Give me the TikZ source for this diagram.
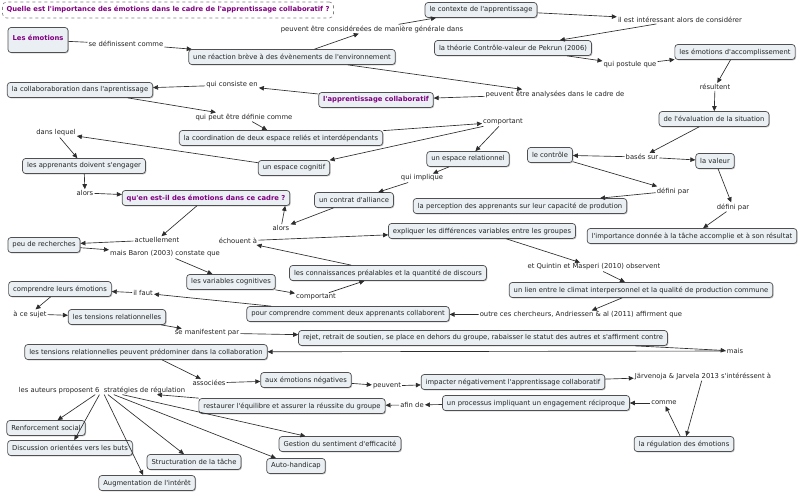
\documentclass[tikz,border=0pt]{standalone}
\usepackage{fontspec}
\setmainfont{DejaVu Sans}[Ligatures=TeXOff]
\usetikzlibrary{arrows.meta,shadows}
\definecolor{boxc}{RGB}{233,239,243}
\definecolor{bordc}{RGB}{80,80,80}
\definecolor{linec}{RGB}{45,45,45}
\definecolor{txtc}{RGB}{35,35,35}
\definecolor{purp}{RGB}{128,0,128}
\newcommand{\fs}{\fontsize{6.8}{8}\selectfont}
\tikzset{
  concept/.style={draw=bordc, fill=boxc, rounded corners=3pt, line width=0.7pt,
    inner xsep=4.5pt, inner ysep=0pt, minimum height=15pt, text=txtc, font=\fs,
    drop shadow={shadow xshift=0.9pt, shadow yshift=-0.9pt, opacity=0.25, fill=black}},
  link/.style={inner sep=1pt, text=txtc, font=\fs},
  hl/.style={text=purp, font=\fs\bfseries},
  arr/.style={draw=linec, line width=0.65pt, -{Triangle[length=5pt,width=4.5pt]}},
  ln/.style={draw=linec, line width=0.65pt}
}
\begin{document}
\begin{tikzpicture}[x=1pt,y=-1pt]
\useasboundingbox[fill=white] (0,0) rectangle (800,493);
% title
\node[draw=gray, dashed, rounded corners=4pt, fill=white, line width=0.6pt,
  text=purp, font=\fs\bfseries, minimum height=16pt, inner xsep=4pt] (title) at (168,10)
  {Quelle est l'importance des émotions dans le cadre de l'apprentissage collaboratif ?};
% concepts
\node[concept,hl,minimum height=25pt,minimum width=60pt] (emo) at (38,40) {\raisebox{5pt}{Les émotions}};
\node[concept] (reac) at (292,57) {une réaction brève à des évènements de l'environnement};
\node[concept] (ctx) at (481,10) {le contexte de l'apprentissage};
\node[concept] (pek) at (513,48) {la théorie Contrôle-valeur de Pekrun (2006)};
\node[concept] (acc) at (735,52) {les émotions d'accomplissement};
\node[concept] (eval) at (714,119) {de l'évaluation de la situation};
\node[concept] (ctrl) at (550,155) {le contrôle};
\node[concept] (val) at (715,161) {la valeur};
\node[concept] (perc) at (520,206) {la perception des apprenants sur leur capacité de prodution};
\node[concept] (imp) at (692,236) {l'importance donnée à la tâche accomplie et à son résultat};
\node[concept] (collab) at (80,90) {la collaboraboration dans l'aprentissage};
\node[concept,hl] (appc) at (376,100) {l'apprentissage collaboratif};
\node[concept] (coord) at (281,138) {la coordination de deux espace reliés et interdépendants};
\node[concept] (cogn) at (294,168) {un espace cognitif};
\node[concept] (rel) at (468,159) {un espace relationnel};
\node[concept] (engag) at (84,166) {les apprenants doivent s'engager};
\node[concept,hl] (quen) at (206,198) {qu'en est-il des émotions dans ce cadre ?};
\node[concept] (contrat) at (354,200) {un contrat d'alliance};
\node[concept] (peu) at (44,245) {peu de recherches};
\node[concept] (expl) at (482,231) {expliquer les différences variables entre les groupes};
\node[concept] (varc) at (231,282) {les variables cognitives};
\node[concept] (conn) at (388,273) {les connaissances préalables et la quantité de discours};
\node[concept] (compr) at (60,289) {comprendre leurs émotions};
\node[concept] (pour) at (348,314) {pour comprendre comment deux apprenants collaborent};
\node[concept] (lien) at (641,290) {un lien entre le climat interpersonnel et la qualité de production commune};
\node[concept] (tens) at (117,317) {les tensions relationnelles};
\node[concept] (rejet) at (483,338) {rejet, retrait de soutien, se place en dehors du groupe, rabaisser le statut des autres et s'affirment contre};
\node[concept] (pred) at (146,352) {les tensions relationnelles peuvent prédominer dans la collaboration};
\node[concept] (neg) at (306,380) {aux émotions négatives};
\node[concept] (impact) at (513,382) {impacter négativement l'apprentissage collaboratif};
\node[concept] (rest) at (292,406) {restaurer l'équilibre et assurer la réussite du groupe};
\node[concept] (proc) at (536,403) {un processus impliquant un engagement réciproque};
\node[concept] (reg) at (684,444) {la régulation des émotions};
\node[concept] (renf) at (46,428) {Renforcement social};
\node[concept] (disc) at (70,448) {Discussion orientées vers les buts};
\node[concept] (struc) at (194,462) {Structuration de la tâche};
\node[concept] (augm) at (147,483) {Augmentation de l'intérêt};
\node[concept] (gest) at (340,444) {Gestion du sentiment d'efficacité};
\node[concept] (auto) at (296,466) {Auto-handicap};
% linking phrases
\node[link] (l1) at (126,44) {se définissent comme};
\node[link] (l2) at (372,29) {peuvent être considéreées de manière générale dans};
\node[link] (l3) at (680,20) {il est intéressant alors de considérer};
\node[link] (l4) at (630,65) {qui postule que};
\node[link] (l5) at (715,87) {résultent};
\node[link] (l6) at (555,94) {peuvent être analysées dans le cadre de};
\node[link] (l7) at (232,85) {qui consiste en};
\node[link] (l8) at (244,117) {qui peut être définie comme};
\node[link] (l9) at (56,133) {dans lequel};
\node[link] (l10) at (503,122) {comportant};
\node[link] (l11) at (642,157) {basés sur};
\node[link] (l12) at (673,191) {défini par};
\node[link] (l13) at (733,207) {défini par};
\node[link] (l14) at (422,178) {qui implique};
\node[link] (l15) at (85,193) {alors};
\node[link] (l16) at (281,228) {alors};
\node[link] (l17) at (157,240) {actuellement};
\node[link] (l18) at (238,241) {échouent à};
\node[link] (l19) at (165,254) {mais Baron (2003) constate que};
\node[link] (l20) at (316,297) {comportant};
\node[link] (l21) at (143,293) {il faut};
\node[link] (l22) at (594,267) {et Quintin et Masperi (2010) observent};
\node[link] (l23) at (581,315) {outre ces chercheurs, Andriessen \& al (2011) affirment que};
\node[link] (l24) at (30,314) {à ce sujet};
\node[link] (l25) at (207,333) {se manifestent par};
\node[link] (l26) at (735,351) {mais};
\node[link] (l27) at (209,383) {associées};
\node[link] (l28) at (387,386) {peuvent};
\node[link] (l29) at (703,376) {Järvenoja \& Jarvela 2013 s'intéréssent à};
\node[link] (l30) at (664,403) {comme};
\node[link] (l31) at (412,405) {afin de};
\node[link] (l32) at (102,390) {les auteurs proposent 6\ \ stratégies de régulation};
% connectors
\draw[ln] (emo) -- (l1);
\draw[arr] (l1) -- (reac);
\draw[arr] (reac) -- (l2);
\draw[arr] (l2) -- (ctx);
\draw[arr] (ctx) -- (l3);
\draw[arr] (l3) -- (pek);
\draw[arr] (pek) -- (l4);
\draw[arr] (l4) -- (acc);
\draw[arr] (acc) -- (l5);
\draw[arr] (l5) -- (eval);
\draw[arr] (eval) -- (l11);
\draw[arr] (l11) -- (ctrl);
\draw[arr] (l11) -- (val);
\draw[arr] (ctrl) -- (l12);
\draw[arr] (l12) -- (perc);
\draw[arr] (val) -- (l13);
\draw[arr] (l13) -- (imp);
\draw[arr] (reac) -- (l6);
\draw[arr] (l6) -- (appc);
\draw[arr] (appc) -- (l7);
\draw[arr] (l7) -- (collab);
\draw[arr] (collab) -- (l8);
\draw[arr] (l8) -- (coord);
\draw[arr] (coord) -- (l10);
\draw[arr] (l10) -- (cogn);
\draw[arr] (l10) -- (rel);
\draw[arr] (cogn) -- (l9);
\draw[arr] (l9) -- (engag);
\draw[arr] (engag) -- (l15);
\draw[arr] (l15) -- (quen);
\draw[arr] (rel) -- (l14);
\draw[arr] (l14) -- (contrat);
\draw[arr] (contrat) -- (l16);
\draw[arr] (l16) -- ([xshift=-5pt]quen.south east);
\draw[arr] (quen) -- (l17);
\draw[arr] (l17) -- (peu);
\draw[arr] (peu) -- (l19);
\draw[arr] (l19) -- (varc);
\draw[arr] (varc) -- (l20);
\draw[arr] (l20) -- (conn);
\draw[arr] (conn) -- (l18);
\draw[arr] (l18) -- (expl);
\draw[arr] (expl) -- (l22);
\draw[arr] (l22) -- (lien);
\draw[arr] (lien) -- (l23);
\draw[arr] (l23) -- (pour);
\draw[arr] (pour) -- (l21);
\draw[arr] (l21) -- (compr);
\draw[arr] (compr) -- (l24);
\draw[arr] (l24) -- (tens);
\draw[arr] (tens) -- (l25);
\draw[arr] (l25) -- (rejet);
\draw[arr] (rejet) -- (l26);
\draw[arr] (l26) -- (pred);
\draw[arr] (pred) -- (l27);
\draw[arr] (l27) -- (neg);
\draw[arr] (neg) -- (l28);
\draw[arr] (l28) -- (impact);
\draw[arr] (impact) -- (l29);
\draw[arr] (l29) -- (reg);
\draw[arr] (reg) -- (l30);
\draw[arr] (l30) -- (proc);
\draw[arr] (proc) -- (l31);
\draw[arr] (l31) -- (rest);
\draw[arr] (rest) -- ([xshift=55pt]l32.south);
\draw[arr] (l32) -- (renf);
\draw[arr] (l32) -- (disc);
\draw[arr] (l32) -- (augm);
\draw[arr] (l32) -- (struc);
\draw[arr] (l32) -- (auto);
\draw[arr] (l32) -- (gest);
\end{tikzpicture}
\end{document}
